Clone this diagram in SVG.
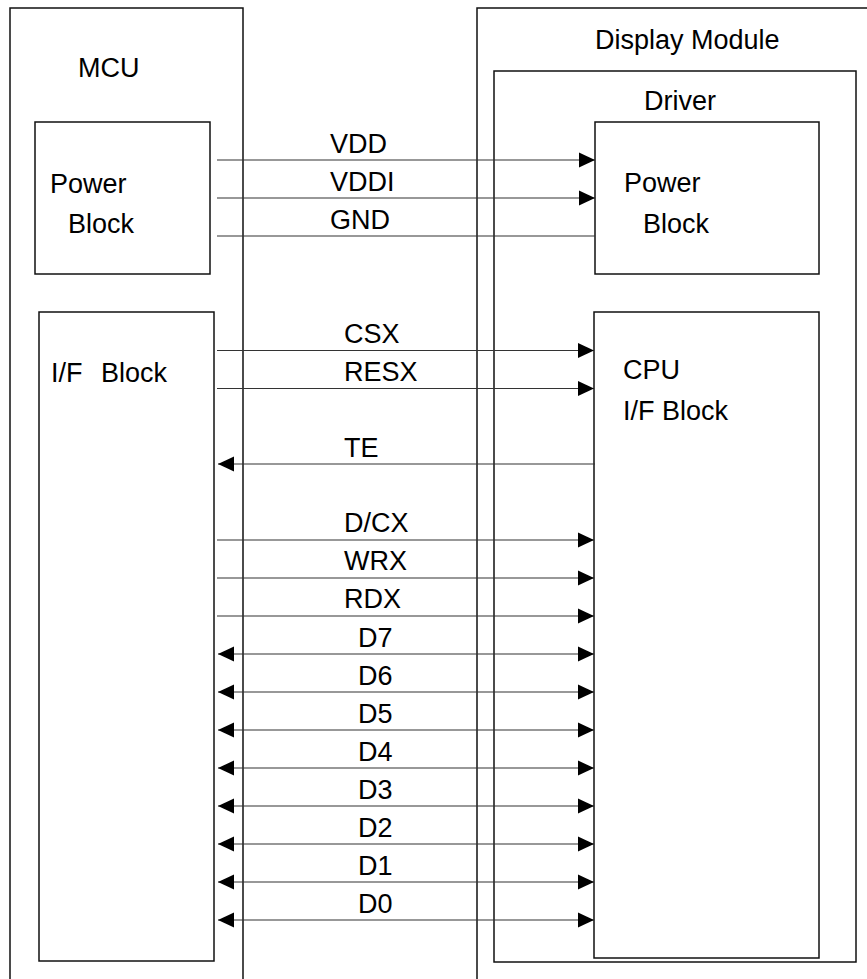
<svg xmlns="http://www.w3.org/2000/svg" width="867" height="979" viewBox="0 0 867 979">
<style>
.box{fill:none;stroke:#111;stroke-width:1.5}
.t{font-family:"Liberation Sans",Arial,sans-serif;font-size:27px;fill:#000}
.w{stroke:#333;stroke-width:1.2;fill:none}
.r{marker-end:url(#ah)}
.b{marker-start:url(#ahs);marker-end:url(#ah)}
.l{marker-end:url(#ah)}
</style>
<defs>
<marker id="ah" markerUnits="userSpaceOnUse" markerWidth="18" markerHeight="18" viewBox="0 0 18 18" refX="16" refY="9" orient="auto">
<path d="M0,1.5 L16,9 L0,16.5 Z" fill="#000"/>
</marker>
<marker id="ahs" markerUnits="userSpaceOnUse" markerWidth="18" markerHeight="18" viewBox="0 0 18 18" refX="16" refY="9" orient="auto-start-reverse">
<path d="M0,1.5 L16,9 L0,16.5 Z" fill="#000"/>
</marker>
</defs>
<rect width="867" height="979" fill="#fff"/>
<g id="mcu">
<path class="box" d="M10,985 V8 H243 V985"/>
<text class="t" x="78" y="77">MCU</text>
</g>
<g id="display-module">
<path class="box" d="M477,985 V8 H872"/>
<text class="t" x="595" y="49">Display Module</text>
</g>
<g id="driver">
<rect class="box" x="494" y="71" width="362" height="891"/>
<text class="t" x="644" y="110">Driver</text>
</g>
<g id="mcu-power-block">
<rect class="box" x="35" y="122" width="175" height="152"/>
<text class="t" x="50" y="193">Power</text>
<text class="t" x="68" y="233">Block</text>
</g>
<g id="driver-power-block">
<rect class="box" x="595" y="122" width="224" height="152"/>
<text class="t" x="624" y="192">Power</text>
<text class="t" x="643" y="233">Block</text>
</g>
<g id="mcu-if-block">
<rect class="box" x="39" y="312" width="175" height="649"/>
<text class="t" x="51" y="382">I/F<tspan x="101">Block</tspan></text>
</g>
<g id="cpu-if-block">
<rect class="box" x="594" y="312" width="225" height="646"/>
<text class="t" x="623" y="379">CPU</text>
<text class="t" x="623" y="420">I/F Block</text>
</g>
<g id="connectors">
<path class="w r" d="M217,160 H595"/>
<path class="w r" d="M217,198 H595"/>
<path class="w" d="M217,236 H595"/>
<path class="w r" d="M217,350.5 H594"/>
<path class="w r" d="M217,388.5 H594"/>
<path class="w l" d="M595,464 H218"/>
<path class="w r" d="M217,540 H594"/>
<path class="w r" d="M217,578 H594"/>
<path class="w r" d="M217,616 H594"/>
<path class="w b" d="M218,654 H594"/>
<path class="w b" d="M218,692 H594"/>
<path class="w b" d="M218,730 H594"/>
<path class="w b" d="M218,768 H594"/>
<path class="w b" d="M218,806 H594"/>
<path class="w b" d="M218,844 H594"/>
<path class="w b" d="M218,882 H594"/>
<path class="w b" d="M218,920 H594"/>
</g>
<g id="labels">
<text class="t" x="330" y="153">VDD</text>
<text class="t" x="330" y="191">VDDI</text>
<text class="t" x="330" y="229">GND</text>
<text class="t" x="344" y="343">CSX</text>
<text class="t" x="344" y="381">RESX</text>
<text class="t" x="344" y="457">TE</text>
<text class="t" x="344" y="532">D/CX</text>
<text class="t" x="344" y="570">WRX</text>
<text class="t" x="344" y="608">RDX</text>
<text class="t" x="358" y="647">D7</text>
<text class="t" x="358" y="685">D6</text>
<text class="t" x="358" y="723">D5</text>
<text class="t" x="358" y="761">D4</text>
<text class="t" x="358" y="799">D3</text>
<text class="t" x="358" y="837">D2</text>
<text class="t" x="358" y="875">D1</text>
<text class="t" x="358" y="913">D0</text>
</g>
</svg>
